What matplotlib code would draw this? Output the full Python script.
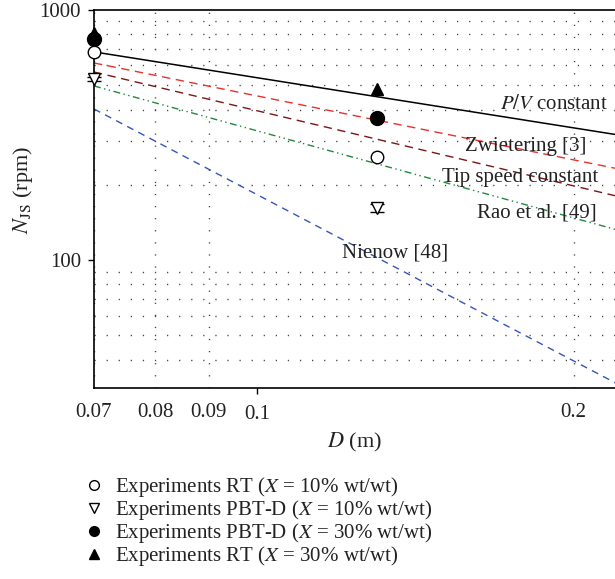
import matplotlib
matplotlib.use("Agg")
import matplotlib.pyplot as plt
from matplotlib.lines import Line2D
from matplotlib.ticker import FixedLocator, FixedFormatter, NullFormatter

plt.rcParams['font.family'] = ['Liberation Serif', 'DejaVu Serif']
plt.rcParams['mathtext.fontset'] = 'stix'

# Correlation lines (end points in log-log space)
line_D = [0.07, 0.22]
pv_N = [680, 317]
zwietering_N = [614, 232]
tipspeed_N = [565, 180]
rao_N = [497, 132]
nienow_N = [402, 32]

# Experiments
exp_D = [0.07, 0.13]
rt10_N = [680, 258]
rt10_err = [0, 9]
pbt10_N = [530, 161]
pbt10_err = [12, 6]
pbt30_N = [765, 370]
rt30_N = [809, 483]

legend_labels = [
    "Experiments RT ($X$ = 10% wt/wt)",
    "Experiments PBT-D ($X$ = 10% wt/wt)",
    "Experiments PBT-D ($X$ = 30% wt/wt)",
    "Experiments RT ($X$ = 30% wt/wt)",
]

fig = plt.figure(figsize=(6.15, 5.79), dpi=100)
ax = fig.add_axes([94/615, 1-388/579, 1-94/615, (388-10)/579])
ax.set_xscale('log')
ax.set_yscale('log')
ax.set_xlim(0.07, 0.2189)
ax.set_ylim(30.8, 1000)

ax.plot(line_D, pv_N, color='black', lw=1.1)
ax.plot(line_D, zwietering_N, color='#e8302c', lw=1.0, ls=(0, (6, 4)))
ax.plot(line_D, tipspeed_N, color='#7a1616', lw=1.0, ls=(0, (6, 4)))
ax.plot(line_D, rao_N, color='#1f8a3c', lw=1.0, ls=(0, (5, 2.5, 1, 2.5, 1, 2.5)))
ax.plot(line_D, nienow_N, color='#3556b8', lw=1.0, ls=(0, (5, 4)))

ms = 9
ax.errorbar(exp_D, rt10_N, yerr=rt10_err, fmt='o', mfc='white', mec='black', ecolor='black',
            ms=ms, mew=1.0, elinewidth=1.0, capsize=0, clip_on=False, zorder=5)
ax.errorbar(exp_D, pbt10_N, yerr=pbt10_err, fmt='v', mfc='white', mec='black', ecolor='black',
            ms=ms, mew=1.0, elinewidth=1.0, capsize=5, clip_on=False, zorder=5)
ax.plot(exp_D, pbt30_N, 'o', color='black', ms=ms + 1, clip_on=False, zorder=6)
ax.plot(exp_D, rt30_N, '^', color='black', ms=ms, clip_on=False, zorder=6)

# Ticks
ax.xaxis.set_major_locator(FixedLocator([0.1]))
ax.xaxis.set_major_formatter(FixedFormatter(['0.1']))
ax.xaxis.set_minor_locator(FixedLocator([0.07, 0.08, 0.09, 0.2]))
ax.xaxis.set_minor_formatter(FixedFormatter(['0.07', '0.08', '0.09', '0.2']))
ax.yaxis.set_major_locator(FixedLocator([100, 1000]))
ax.yaxis.set_major_formatter(FixedFormatter(['100', '1000']))
ax.yaxis.set_minor_locator(FixedLocator([40, 50, 60, 70, 80, 90, 200, 300, 400, 500, 600, 700, 800, 900]))
ax.yaxis.set_minor_formatter(NullFormatter())
ax.tick_params(which='major', direction='out', length=4.5, width=1.0, labelsize=15, pad=7.5,
               labelcolor='#222222')
ax.tick_params(which='minor', length=0, labelsize=15, pad=11, labelcolor='#222222')
ax.tick_params(axis='y', which='major', pad=5)

ax.grid(which='minor', color='#444444', lw=1.0, ls=(0, (0.9, 7.8)))
ax.set_axisbelow(True)

for s in ['left', 'bottom', 'top']:
    ax.spines[s].set_linewidth(1.2)
ax.spines['right'].set_visible(False)

ax.set_xlabel('$D$ (m)', fontsize=16, labelpad=5, color='#222222')
ax.set_ylabel('$N_{\\mathrm{JS}}$ (rpm)', fontsize=16, labelpad=6, color='#222222')
ax.yaxis.set_label_coords(-0.114, 0.524)

tk = dict(transform=ax.transAxes, fontsize=15, color='#222222', va='center')
ax.text(0.987, 0.751, '$P/V$ constant', ha='right', **tk)
ax.text(0.946, 0.638, 'Zwietering [3]', ha='right', **tk)
ax.text(0.967, 0.556, 'Tip speed constant', ha='right', **tk)
ax.text(0.965, 0.463, 'Rao et al. [49]', ha='right', **tk)
ax.text(0.476, 0.357, 'Nienow [48]', ha='left', **tk)

handles = [
    Line2D([], [], ls='none', marker='o', mfc='white', mec='black', ms=7),
    Line2D([], [], ls='none', marker='v', mfc='white', mec='black', ms=7),
    Line2D([], [], ls='none', marker='o', color='black', ms=7),
    Line2D([], [], ls='none', marker='^', color='black', ms=7),
]
leg = fig.legend(handles, legend_labels, loc='upper left', bbox_to_anchor=(84/615, 1-475/579),
                 frameon=False, fontsize=15, handlelength=1.0, handletextpad=0.5,
                 labelspacing=-0.05, borderaxespad=0, borderpad=0)
for t in leg.get_texts():
    t.set_color('#222222')

fig.savefig('out.png', dpi=100)
